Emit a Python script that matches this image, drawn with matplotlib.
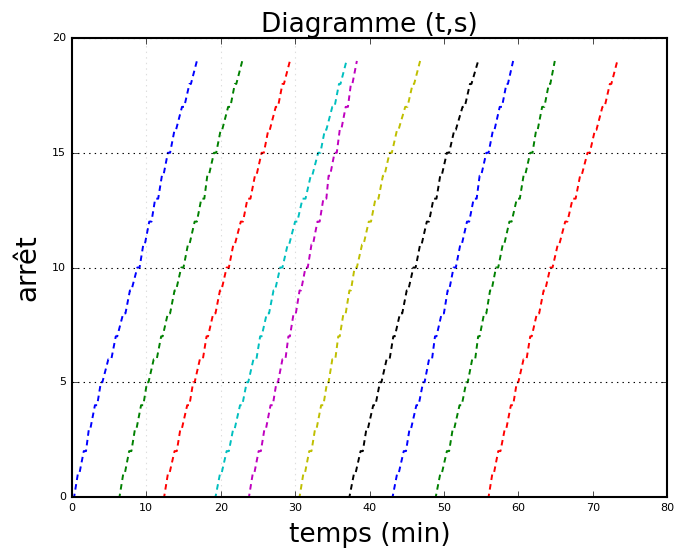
import matplotlib
matplotlib.use("Agg")
import matplotlib.pyplot as plt

# heures d'arrivée (min) à chaque arrêt 0..19, un bus par liste
bus_1 = [0.0, 0.8, 1.6, 2.3, 3.1, 3.9, 4.9, 5.9, 6.9, 7.8, 8.8, 9.6, 10.4, 11.2, 12.1, 12.9, 13.8, 14.8, 15.8, 16.8]
bus_2 = [6.1, 6.9, 7.7, 8.5, 9.3, 10.1, 11.0, 12.0, 12.9, 13.8, 14.7, 15.6, 16.5, 17.4, 18.2, 19.1, 20.0, 21.0, 21.9, 22.9]
bus_3 = [12.1, 12.9, 13.8, 14.6, 15.5, 16.3, 17.2, 18.1, 19.0, 19.9, 20.8, 21.7, 22.7, 23.6, 24.6, 25.5, 26.4, 27.4, 28.3, 29.3]
bus_4 = [19.0, 19.9, 20.8, 21.7, 22.6, 23.5, 24.4, 25.3, 26.2, 27.1, 28.0, 29.0, 30.0, 31.0, 32.1, 33.1, 34.0, 35.0, 35.9, 36.9]
bus_5 = [23.5, 24.3, 25.1, 25.9, 26.7, 27.5, 28.3, 29.1, 29.8, 30.6, 31.4, 32.2, 33.0, 33.8, 34.5, 35.3, 36.0, 36.8, 37.5, 38.3]
bus_6 = [30.3, 31.1, 31.9, 32.7, 33.5, 34.3, 35.0, 35.8, 36.5, 37.3, 38.0, 39.0, 39.9, 40.8, 41.8, 42.7, 43.7, 44.8, 45.8, 46.8]
bus_7 = [37.0, 37.9, 38.8, 39.6, 40.5, 41.4, 42.3, 43.2, 44.1, 45.0, 45.9, 46.8, 47.7, 48.6, 49.5, 50.4, 51.4, 52.5, 53.5, 54.6]
bus_8 = [42.8, 43.7, 44.6, 45.4, 46.3, 47.2, 48.0, 48.8, 49.7, 50.5, 51.3, 52.2, 53.1, 54.0, 54.8, 55.7, 56.6, 57.5, 58.4, 59.3]
bus_9 = [48.6, 49.5, 50.4, 51.2, 52.1, 53.0, 53.8, 54.6, 55.4, 56.2, 57.0, 57.9, 58.8, 59.8, 60.7, 61.6, 62.4, 63.2, 64.1, 64.9]
bus_10 = [55.7, 56.5, 57.3, 58.2, 59.0, 59.8, 60.7, 61.6, 62.5, 63.4, 64.3, 65.3, 66.3, 67.3, 68.3, 69.3, 70.3, 71.3, 72.3, 73.3]

# temps d'attente à chaque arrêt (min)
attente = [0.3, 0.2, 0.3, 0.2, 0.3, 0.2, 0.4, 0.2, 0.3, 0.2, 0.3, 0.2, 0.3, 0.4, 0.2, 0.3, 0.2, 0.3, 0.2]

bus = [bus_1, bus_2, bus_3, bus_4, bus_5, bus_6, bus_7, bus_8, bus_9, bus_10]
couleurs = ['b', 'g', 'r', 'c', 'm', 'y', 'k', 'b', 'g', 'r']
reperes = [10, 20, 30]

plt.style.use('classic')
fig = plt.figure(figsize=(6.78, 5.55), dpi=100, facecolor='white')
ax = fig.add_axes([0.106, 0.1045, 0.878, 0.827])

for arr, c in zip(bus, couleurs):
    t = []
    s = []
    for k in range(len(arr)):
        t.append(arr[k])
        s.append(k)
        if k < len(attente):
            t.append(arr[k] + attente[k])
            s.append(k)
    ax.plot(t, s, color=c, linestyle='--', linewidth=1.4, dashes=(4, 3))

ax.vlines(reperes, 0, 20, colors='#dddddd', linestyles=':', linewidth=0.8, zorder=0)
ax.yaxis.grid(True, linestyle=':', color='k', linewidth=0.8)

ax.set_xlim(0, 80)
ax.set_ylim(0, 20)
ax.set_xticks(range(0, 81, 10))
ax.set_yticks(range(0, 21, 5))
ax.tick_params(labelsize=8)
for sp in ax.spines.values():
    sp.set_linewidth(1.5)

ax.set_title('Diagramme (t,s)', fontsize=19, pad=4)
ax.set_xlabel('temps (min)', fontsize=19, labelpad=7)
ax.set_ylabel('arrêt', fontsize=20, labelpad=8)

fig.savefig('out.png', dpi=100, facecolor='white')
